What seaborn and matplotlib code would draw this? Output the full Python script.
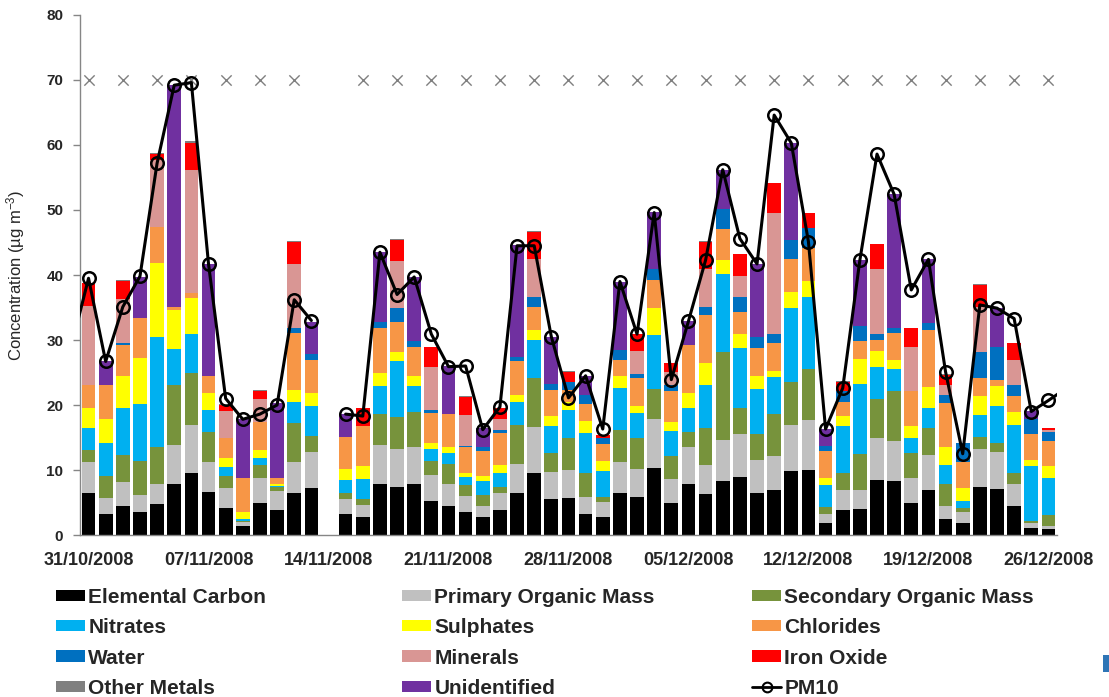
import numpy as np
import pandas as pd
import matplotlib
matplotlib.use("Agg")
import matplotlib.pyplot as plt
import seaborn as sns
from matplotlib.patches import Patch, Rectangle
from matplotlib.lines import Line2D

# ---------------------------------------------------------------------------
# Data: daily PM10 chemical mass closure, 31/10/2008 - 26/12/2008
# (no sample on 14/11/2008)
# ---------------------------------------------------------------------------
sample_dates = pd.to_datetime(
    ["2008-10-31", "2008-11-01", "2008-11-02", "2008-11-03", "2008-11-04",
     "2008-11-05", "2008-11-06", "2008-11-07", "2008-11-08", "2008-11-09",
     "2008-11-10", "2008-11-11", "2008-11-12", "2008-11-13",
     "2008-11-15", "2008-11-16", "2008-11-17", "2008-11-18", "2008-11-19",
     "2008-11-20", "2008-11-21", "2008-11-22", "2008-11-23", "2008-11-24",
     "2008-11-25", "2008-11-26", "2008-11-27", "2008-11-28", "2008-11-29",
     "2008-11-30", "2008-12-01", "2008-12-02", "2008-12-03", "2008-12-04",
     "2008-12-05", "2008-12-06", "2008-12-07", "2008-12-08", "2008-12-09",
     "2008-12-10", "2008-12-11", "2008-12-12", "2008-12-13", "2008-12-14",
     "2008-12-15", "2008-12-16", "2008-12-17", "2008-12-18", "2008-12-19",
     "2008-12-20", "2008-12-21", "2008-12-22", "2008-12-23", "2008-12-24",
     "2008-12-25", "2008-12-26"])

elemental_carbon = [6.4, 3.3, 4.5, 3.5, 4.7, 7.9, 9.6, 6.6, 4.1, 1.4, 5.0, 3.8, 6.4, 7.3,
                    3.2, 2.7, 7.8, 7.4, 7.8, 5.2, 4.5, 3.5, 2.7, 3.8, 6.4, 9.5, 5.6, 5.7,
                    3.2, 2.8, 6.5, 5.9, 10.3, 5.0, 7.8, 6.3, 8.3, 9.0, 6.5, 6.9, 9.8, 10.0,
                    1.9, 3.8, 4.0, 8.5, 8.3, 5.0, 6.9, 2.5, 1.9, 7.4, 7.1, 4.5, 1.1, 0.9]
primary_organic = [4.9, 2.4, 3.6, 2.7, 3.2, 5.9, 7.4, 4.7, 3.2, 0.6, 3.8, 3.0, 4.9, 5.4,
                   2.3, 1.9, 6.0, 5.8, 5.7, 4.0, 3.4, 2.5, 1.7, 2.7, 4.6, 7.1, 4.1, 4.3,
                   2.6, 2.3, 4.8, 4.2, 7.6, 3.6, 5.8, 4.5, 6.3, 6.6, 5.0, 5.2, 7.2, 7.7,
                   1.4, 3.2, 3.0, 6.5, 6.2, 3.8, 5.4, 1.9, 1.7, 5.8, 5.6, 3.3, 0.7, 0.5]
secondary_organic = [1.8, 3.4, 4.2, 5.2, 5.7, 9.3, 8.0, 4.6, 1.8, 0.2, 2.0, 0.6, 5.9, 2.6,
                     1.0, 1.0, 4.8, 4.9, 5.5, 2.2, 3.1, 1.7, 1.8, 0.9, 6.0, 7.6, 2.9, 4.9,
                     3.8, 0.7, 4.9, 4.9, 4.5, 3.6, 2.3, 5.6, 13.5, 4.0, 4.1, 6.5, 6.6, 7.9,
                     1.0, 2.5, 5.4, 6.0, 7.7, 3.8, 4.2, 3.5, 0.5, 1.9, 1.5, 1.7, 0.4, 1.7]
nitrates = [3.4, 5.1, 7.2, 8.7, 16.8, 5.5, 6.0, 3.4, 1.4, 0.2, 1.0, 0.2, 3.3, 4.5,
            1.9, 3.0, 4.3, 8.6, 3.9, 1.9, 1.6, 1.3, 2.1, 2.1, 3.4, 5.8, 4.1, 4.3,
            6.1, 4.0, 6.4, 3.7, 8.4, 3.8, 3.6, 6.7, 12.0, 9.1, 6.8, 5.7, 11.4, 11.0,
            3.4, 7.2, 10.8, 4.9, 3.3, 2.3, 3.0, 2.9, 1.2, 3.4, 5.6, 7.4, 8.4, 5.6]
sulphates = [3.1, 3.6, 5.0, 7.2, 11.4, 6.0, 5.4, 2.5, 1.3, 1.2, 1.3, 0.3, 1.8, 2.0,
             1.7, 2.0, 2.0, 1.5, 1.5, 0.9, 1.0, 0.5, 0.8, 1.3, 1.1, 1.6, 1.6, 1.3,
             1.9, 1.6, 1.8, 1.1, 4.1, 1.4, 2.4, 3.4, 2.2, 2.3, 2.0, 1.0, 2.4, 2.5,
             1.0, 1.6, 3.9, 2.4, 1.5, 1.8, 3.3, 2.7, 1.9, 2.9, 3.1, 2.1, 1.0, 1.9]
chlorides = [3.5, 5.3, 4.8, 6.1, 5.6, 0.5, 0.8, 2.6, 3.1, 5.1, 4.3, 0.9, 8.8, 5.1,
             5.0, 6.2, 7.0, 4.5, 4.6, 4.6, 5.0, 4.0, 3.8, 4.9, 5.2, 3.5, 4.0, 1.8,
             2.5, 2.6, 2.5, 4.3, 4.4, 4.8, 7.4, 7.3, 4.7, 3.3, 4.4, 4.2, 5.0, 5.0,
             4.2, 2.1, 2.7, 1.7, 4.1, 5.5, 8.8, 6.8, 4.1, 2.7, 1.0, 2.4, 3.9, 3.9]
water = [0.0, 0.0, 0.2, 0.0, 0.0, 0.0, 0.0, 0.0, 0.0, 0.0, 0.0, 0.0, 0.7, 1.0,
         0.0, 0.0, 0.8, 2.2, 0.8, 0.4, 0.0, 0.2, 0.6, 0.5, 0.7, 1.5, 1.0, 1.3,
         1.5, 0.9, 1.5, 0.7, 1.7, 0.9, 0.0, 1.3, 3.2, 2.3, 1.7, 1.4, 3.0, 3.1,
         0.8, 1.7, 2.4, 1.0, 0.7, 0.0, 1.0, 1.2, 2.9, 4.0, 5.1, 1.7, 2.4, 1.4]
minerals = [12.1, 0.0, 6.8, 0.0, 10.3, 0.0, 19.0, 0.0, 4.2, 0.0, 3.6, 0.0, 9.9, 0.0,
            0.0, 0.0, 0.0, 7.2, 0.0, 6.7, 0.0, 4.8, 0.0, 1.7, 0.0, 5.9, 0.0, 0.0,
            0.0, 0.0, 0.0, 3.5, 0.0, 2.0, 0.0, 5.9, 0.0, 3.3, 0.0, 18.7, 0.0, 0.0,
            0.0, 0.0, 0.0, 9.9, 0.0, 6.7, 0.0, 1.6, 0.0, 7.0, 0.0, 3.8, 0.0, 0.3]
iron_oxide = [3.5, 0.0, 2.8, 0.0, 0.9, 0.0, 4.1, 0.0, 0.9, 0.0, 1.2, 0.0, 3.4, 0.0,
              0.0, 2.7, 0.0, 3.3, 0.0, 3.0, 0.0, 2.8, 0.0, 1.6, 0.0, 4.1, 0.0, 1.5,
              0.0, 0.5, 0.0, 2.6, 0.0, 1.4, 0.0, 4.1, 0.0, 3.3, 0.0, 4.5, 0.0, 2.3,
              0.0, 1.5, 0.0, 3.8, 0.0, 2.9, 0.0, 1.5, 0.0, 3.4, 0.0, 2.6, 0.0, 0.2]
other_metals = [0.1, 0.0, 0.1, 0.0, 0.1, 0.0, 0.3, 0.0, 0.1, 0.0, 0.1, 0.0, 0.1, 0.0,
                0.0, 0.1, 0.0, 0.1, 0.0, 0.1, 0.0, 0.1, 0.0, 0.1, 0.0, 0.1, 0.0, 0.1,
                0.0, 0.0, 0.0, 0.1, 0.0, 0.0, 0.0, 0.1, 0.0, 0.1, 0.0, 0.1, 0.0, 0.1,
                0.0, 0.1, 0.0, 0.1, 0.0, 0.1, 0.0, 0.1, 0.0, 0.1, 0.0, 0.1, 0.0, 0.0]
unidentified = [0.0, 3.6, 0.0, 6.3, 0.0, 34.1, 0.0, 17.3, 0.0, 9.2, 0.0, 11.5, 0.0, 4.9,
                3.5, 0.0, 10.9, 0.0, 9.9, 0.0, 7.4, 0.0, 2.9, 0.0, 17.2, 0.0, 7.2, 0.0,
                2.8, 0.0, 10.6, 0.0, 8.7, 0.0, 3.6, 0.0, 6.0, 0.0, 11.2, 0.0, 14.9, 0.0,
                2.6, 0.0, 10.1, 0.0, 20.6, 0.0, 9.8, 0.0, 0.0, 0.0, 6.0, 0.0, 1.2, 0.0]

# Gravimetric PM10, including the neighbouring days just outside the period
pm10_dates = pd.to_datetime(["2008-10-30"]).append(sample_dates).append(pd.to_datetime(["2008-12-27"]))
pm10 = [29.0,
        39.5, 26.7, 35.1, 39.8, 57.2, 69.2, 69.6, 41.7, 21.0, 17.8, 18.6, 20.0, 36.2, 33.0,
        18.6, 18.3, 43.5, 37.0, 39.7, 30.9, 25.9, 26.0, 16.2, 19.7, 44.5, 44.5, 30.5, 21.1,
        24.5, 16.3, 39.0, 30.9, 49.6, 23.9, 32.9, 42.3, 56.2, 45.6, 41.7, 64.6, 60.3, 45.1,
        16.3, 22.6, 42.3, 58.6, 52.4, 37.7, 42.4, 25.1, 12.5, 35.4, 34.9, 33.3, 19.0, 20.7,
        22.5]

# Days with a parallel filter sample, flagged along the top of the chart
flag_dates = pd.to_datetime(
    ["2008-10-31", "2008-11-02", "2008-11-04", "2008-11-06", "2008-11-08",
     "2008-11-10", "2008-11-12", "2008-11-16", "2008-11-18", "2008-11-20",
     "2008-11-22", "2008-11-24", "2008-11-26", "2008-11-28", "2008-11-30",
     "2008-12-02", "2008-12-04", "2008-12-06", "2008-12-08", "2008-12-10",
     "2008-12-12", "2008-12-14", "2008-12-16", "2008-12-18", "2008-12-20",
     "2008-12-22", "2008-12-24", "2008-12-26"])
flag_level = 70

tick_dates = pd.to_datetime(["2008-10-31", "2008-11-07", "2008-11-14", "2008-11-21",
                             "2008-11-28", "2008-12-05", "2008-12-12", "2008-12-19",
                             "2008-12-26"])

components = [
    ("Elemental Carbon", elemental_carbon, "#000000"),
    ("Primary Organic Mass", primary_organic, "#C0C0C0"),
    ("Secondary Organic Mass", secondary_organic, "#77933C"),
    ("Nitrates", nitrates, "#00B0F0"),
    ("Sulphates", sulphates, "#FFFF00"),
    ("Chlorides", chlorides, "#F79646"),
    ("Water", water, "#0070C0"),
    ("Minerals", minerals, "#D99694"),
    ("Iron Oxide", iron_oxide, "#FF0000"),
    ("Other Metals", other_metals, "#808080"),
    ("Unidentified", unidentified, "#7030A0"),
]

# ---------------------------------------------------------------------------
sns.set_theme(style="white")
plt.rcParams["font.family"] = ["Liberation Sans", "DejaVu Sans"]
plt.rcParams["mathtext.fontset"] = "custom"
plt.rcParams["mathtext.rm"] = "Liberation Sans"
plt.rcParams["mathtext.it"] = "Liberation Sans:italic"

start = pd.Timestamp("2008-10-31")


def day_index(d):
    return np.asarray((pd.DatetimeIndex(d) - start).days, dtype=float)


x = day_index(sample_dates)

fig = plt.figure(figsize=(11.09, 6.97), dpi=100)
ax = fig.add_axes([0.0721, 0.2324, 0.8810, 0.7461])

# stacked composition bars
bottom = np.zeros(len(x))
for name, vals, col in components:
    vals = np.asarray(vals, dtype=float)
    ax.bar(x, vals, bottom=bottom, width=0.8, color=col, linewidth=0, zorder=2)
    bottom += vals

# PM10 line (broken where no sample exists)
pm_df = pd.DataFrame({"day": day_index(pm10_dates), "pm10": pm10})
pm_df["segment"] = (pm_df["day"] > 13.5).astype(int)
sns.lineplot(data=pm_df, x="day", y="pm10", units="segment", estimator=None,
             color="black", linewidth=2.2, marker="o", markersize=9,
             markerfacecolor="none", markeredgecolor="black", markeredgewidth=1.8,
             legend=False, ax=ax, zorder=4, clip_on=True)

# filter-sample flags
fx = day_index(flag_dates)
sns.scatterplot(x=fx, y=np.full(len(fx), flag_level), marker="x", color="#7F7F7F",
                s=55, linewidth=1.0, ax=ax, zorder=3, legend=False)

# axes styling
ax.set_xlim(-0.5, 56.5)
ax.set_ylim(0, 80)
ax.set_yticks(np.arange(0, 81, 10))
ax.set_yticklabels([str(v) for v in range(0, 81, 10)], fontsize=11, fontweight="bold")
ax.set_xticks(day_index(tick_dates))
ax.set_xticklabels([d.strftime("%d/%m/%Y") for d in tick_dates],
                   fontsize=13, fontweight="bold")
ax.set_xticks(day_index(tick_dates) - 0.5, minor=True)
ax.tick_params(axis="x", which="major", length=0, pad=12)
ax.tick_params(axis="x", which="minor", length=5, width=1, color="#868686", direction="out")
ax.tick_params(axis="y", which="major", length=5, width=1, color="#868686",
               direction="out", pad=7, left=True)
ax.set_xlabel("")
ax.set_ylabel("Concentration (µg m$^{-3}$)", fontsize=12)
ax.yaxis.set_label_coords(-0.054, 0.5)
for side in ("top", "right"):
    ax.spines[side].set_visible(False)
for side in ("left", "bottom"):
    ax.spines[side].set_color("#868686")
    ax.spines[side].set_linewidth(1)
ax.grid(False)

# legend, three columns of four rows
handles = [Patch(facecolor=c, edgecolor="none") for _, _, c in components]
labels = [n for n, _, _ in components]
handles.append(Line2D([], [], color="black", linewidth=2, marker="o", markersize=7,
                      markerfacecolor="none", markeredgecolor="black", markeredgewidth=1.5))
labels.append("PM10")

col_x = [56 / 1109, 402 / 1109, 752 / 1109]
for c in range(3):
    idx = [c, c + 3, c + 6, c + 9]
    fig.legend([handles[i] for i in idx], [labels[i] for i in idx],
               loc="upper left", bbox_to_anchor=(col_x[c], 1 - 588 / 697),
               frameon=False, borderpad=0, borderaxespad=0,
               handlelength=1.4, handleheight=0.45, handletextpad=0.15,
               labelspacing=0.54, prop={"weight": "bold", "size": 15})

# small slide element at the lower right edge
fig.patches.append(Rectangle((1103 / 1109, 1 - 672 / 697), 6 / 1109, 17 / 697,
                             transform=fig.transFigure, facecolor="#2E75B6",
                             edgecolor="none"))

fig.savefig("out.png", dpi=100)
